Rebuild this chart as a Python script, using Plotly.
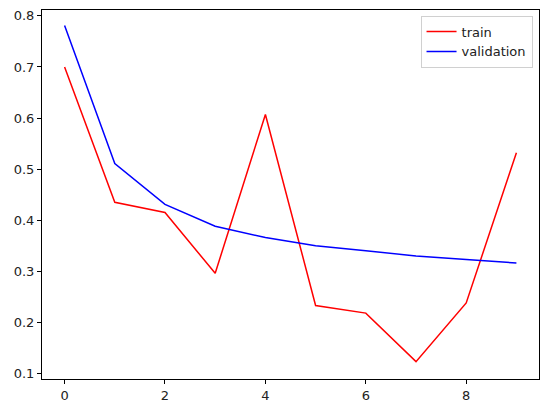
import plotly.graph_objects as go

epochs = list(range(10))
train = [0.700, 0.435, 0.415, 0.296, 0.607, 0.233, 0.218, 0.123, 0.238, 0.532]
validation = [0.781, 0.511, 0.431, 0.388, 0.366, 0.350, 0.340, 0.330, 0.323, 0.316]

fig = go.Figure()
fig.add_trace(go.Scatter(x=epochs, y=train, mode="lines", name="train",
                         line=dict(color="red", width=1.5)))
fig.add_trace(go.Scatter(x=epochs, y=validation, mode="lines", name="validation",
                         line=dict(color="blue", width=1.5)))

axis_common = dict(showgrid=False, zeroline=False, showline=True, linecolor="black",
                   linewidth=1, mirror=True, ticks="outside", ticklen=4, tickcolor="black",
                   tickfont=dict(family="DejaVu Sans", size=13, color="#222"))
fig.update_xaxes(range=[-0.45, 9.45], tickvals=[0, 2, 4, 6, 8], **axis_common)
fig.update_yaxes(range=[0.089, 0.8115], tickvals=[0.1, 0.2, 0.3, 0.4, 0.5, 0.6, 0.7, 0.8],
                 tickformat=".1f", **axis_common)

fig.update_layout(
    width=547, height=413,
    margin=dict(l=42, r=8, t=10, b=34),
    plot_bgcolor="white", paper_bgcolor="white",
    font=dict(family="DejaVu Sans", size=13, color="#222"),
    legend=dict(x=0.987, y=0.985, xanchor="right", yanchor="top",
                bgcolor="rgba(255,255,255,0.8)", bordercolor="#d0d0d0", borderwidth=1,
                font=dict(size=13), tracegroupgap=0),
    showlegend=True,
)

fig.write_html("out.html")
